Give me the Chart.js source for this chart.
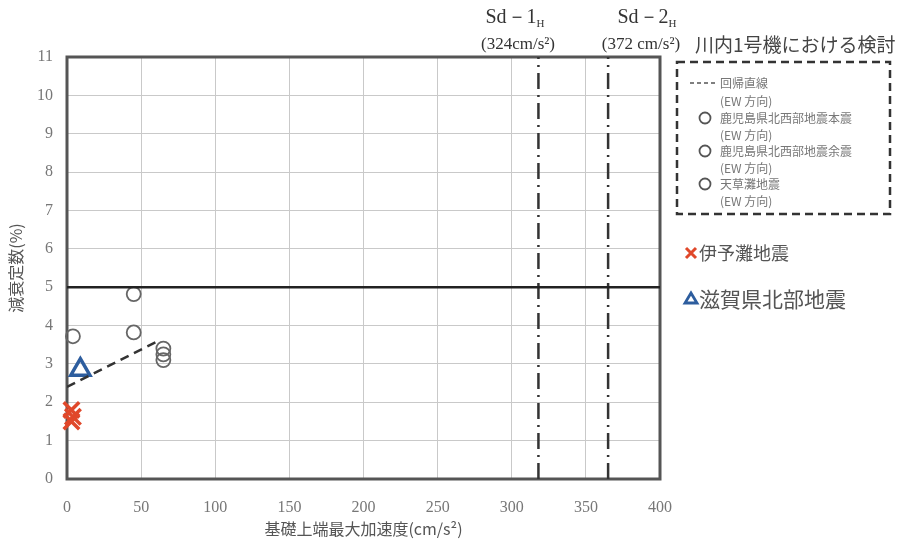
<!DOCTYPE html>
<html>
<head>
<meta charset="utf-8">
<script src="https://cdn.jsdelivr.net/npm/chart.js@4/dist/chart.umd.min.js"></script>
<style>
  body { margin: 0; background: #fff; }
  canvas { display: block; }
</style>
</head>
<body>
<canvas id="chart" width="906" height="547"></canvas>
<script>
// --- Axis ---
const X_MIN = 0, X_MAX = 400, X_STEP = 50;
const Y_MIN = 0, Y_MAX = 11, Y_STEP = 1;

// --- Data (x: cm/s2, y: %) ---
const mainshockPts = [{ x: 45, y: 4.82 }, { x: 65, y: 3.4 }];
const aftershockPts = [{ x: 45, y: 3.82 }, { x: 65, y: 3.25 }];
const amakusaPts = [{ x: 4, y: 3.72 }, { x: 65, y: 3.1 }];
const iyonadaPts = [{ x: 3, y: 1.8 }, { x: 4, y: 1.62 }, { x: 3, y: 1.5 }];
const shigaPts = [{ x: 9, y: 2.85 }];
const regressionPts = [{ x: 0, y: 2.4 }, { x: 60, y: 3.57 }];
const limitLine = 5;
const sdLines = [318, 365];            // where the two Sd lines are drawn
const sdLabels = ["324cm/s²", "372 cm/s²"];

// --- Legend texts ---
const boxTitle = "川内1号機における検討";
const boxItems = ["回帰直線", "鹿児島県北西部地震本震", "鹿児島県北西部地震余震", "天草灘地震"];
const EW = "(EW 方向)";

const JP = '"Noto Sans CJK JP", sans-serif';
const SERIF = '"Liberation Serif", serif';
const GRID = "#c9c9c9";
const RED = "#e0482a";
const BLUE = "#2d5d9e";

// --- Extra drawing: frame, headers, legend box ---
const decorPlugin = {
  id: "decor",
  beforeDatasetsDraw(chart) {
    const { ctx, chartArea: a } = chart;
    ctx.save();
    ctx.strokeStyle = "#555";
    ctx.lineWidth = 3;
    ctx.strokeRect(a.left, a.top, a.right - a.left, a.bottom - a.top);
    ctx.restore();
  },
  afterDraw(chart) {
    const { ctx } = chart;
    ctx.save();
    ctx.fillStyle = "#333";
    ctx.textBaseline = "middle";

    // Sd headers
    const sdCenters = [515, 647];
    sdCenters.forEach((cx, i) => {
      ctx.font = "20px " + SERIF;
      const main = "Sd－" + (i + 1);
      const w1 = ctx.measureText(main).width;
      ctx.font = "11px " + SERIF;
      const w2 = ctx.measureText("H").width;
      const start = cx - (w1 + w2) / 2;
      ctx.textAlign = "left";
      ctx.font = "20px " + SERIF;
      ctx.fillText(main, start, 18);
      ctx.font = "11px " + SERIF;
      ctx.fillText("H", start + w1, 24);
      ctx.font = "17px " + SERIF;
      ctx.textAlign = "center";
      ctx.fillText("(" + sdLabels[i] + ")", cx + (i ? -6 : 3), 45);
    });

    // box title
    ctx.textAlign = "left";
    ctx.font = "19px " + JP;
    ctx.fillStyle = "#444";
    ctx.fillText(boxTitle, 695, 45);

    // dashed legend box
    ctx.strokeStyle = "#333";
    ctx.lineWidth = 2.5;
    ctx.setLineDash([8, 5]);
    ctx.strokeRect(677, 62, 213, 152);
    ctx.setLineDash([]);

    ctx.font = "12px " + JP;
    ctx.fillStyle = "#777";
    // regression sample
    ctx.strokeStyle = "#555";
    ctx.lineWidth = 1.5;
    ctx.setLineDash([4, 3]);
    ctx.beginPath(); ctx.moveTo(690, 83); ctx.lineTo(717, 83); ctx.stroke();
    ctx.setLineDash([]);
    ctx.fillText(boxItems[0], 720, 83);
    ctx.fillText(EW, 720, 101);
    const rows = [118, 151, 184];
    rows.forEach((y, i) => {
      ctx.strokeStyle = "#555";
      ctx.lineWidth = 1.8;
      ctx.beginPath(); ctx.arc(705, y, 5.5, 0, Math.PI * 2); ctx.stroke();
      ctx.fillText(boxItems[i + 1], 720, y);
      ctx.fillText(EW, 720, y + 17);
    });

    // red cross legend
    ctx.strokeStyle = RED;
    ctx.lineWidth = 3;
    ctx.beginPath();
    ctx.moveTo(686, 248); ctx.lineTo(696, 258);
    ctx.moveTo(696, 248); ctx.lineTo(686, 258);
    ctx.stroke();
    ctx.fillStyle = "#555";
    ctx.font = "18px " + JP;
    ctx.fillText("伊予灘地震", 699, 253);

    // blue triangle legend
    ctx.strokeStyle = BLUE;
    ctx.lineWidth = 2.8;
    ctx.beginPath();
    ctx.moveTo(691, 293); ctx.lineTo(697, 303); ctx.lineTo(685, 303); ctx.closePath();
    ctx.stroke();
    ctx.font = "21px " + JP;
    ctx.fillText("滋賀県北部地震", 699, 299);
    ctx.restore();
  }
};

const circleStyle = {
  type: "scatter",
  pointStyle: "circle",
  pointRadius: 7,
  pointBorderWidth: 1.8,
  borderColor: "#666",
  backgroundColor: "rgba(0,0,0,0)",
  clip: false
};

new Chart(document.getElementById("chart"), {
  type: "scatter",
  data: {
    datasets: [
      {
        type: "line", data: [{ x: X_MIN, y: limitLine }, { x: X_MAX, y: limitLine }],
        borderColor: "#222", borderWidth: 2.5, pointRadius: 0
      },
      ...sdLines.map(x => ({
        type: "line", data: [{ x: x, y: Y_MIN }, { x: x, y: Y_MAX }],
        borderColor: "#333", borderWidth: 2.5, borderDash: [16, 6, 2, 6], pointRadius: 0
      })),
      {
        type: "line", data: regressionPts,
        borderColor: "#333", borderWidth: 2.5, borderDash: [9, 6], pointRadius: 0
      },
      Object.assign({ data: mainshockPts }, circleStyle),
      Object.assign({ data: aftershockPts }, circleStyle),
      Object.assign({ data: amakusaPts }, circleStyle),
      {
        data: shigaPts, pointStyle: "triangle", pointRadius: 11,
        pointBorderWidth: 3.5, borderColor: BLUE, backgroundColor: "rgba(0,0,0,0)", clip: false
      },
      {
        data: iyonadaPts, pointStyle: "crossRot", pointRadius: 11,
        pointBorderWidth: 3.5, borderColor: RED, backgroundColor: RED, clip: false
      }
    ]
  },
  options: {
    responsive: false,
    animation: false,
    layout: { padding: { left: 0, right: 246, top: 57, bottom: 0 } },
    plugins: { legend: { display: false }, tooltip: { enabled: false } },
    scales: {
      x: {
        type: "linear", min: X_MIN, max: X_MAX,
        ticks: { stepSize: X_STEP, color: "#777", padding: 19, font: { family: SERIF, size: 16 } },
        grid: { color: GRID, drawTicks: false },
        border: { display: false },
        title: {
          display: true, text: "基礎上端最大加速度(cm/s²)", color: "#555",
          font: { family: JP, size: 16 }, padding: { top: 0, bottom: 8 }
        },
        afterFit(s) { s.height = 68; }
      },
      y: {
        min: Y_MIN, max: Y_MAX,
        ticks: { stepSize: Y_STEP, color: "#777", padding: 14, font: { family: SERIF, size: 16 } },
        grid: { color: GRID, drawTicks: false },
        border: { display: false },
        title: {
          display: true, text: "減衰定数(%)", color: "#555",
          font: { family: JP, size: 16 }, padding: { top: 6, bottom: 0 }
        },
        afterFit(s) { s.width = 67; }
      }
    }
  },
  plugins: [decorPlugin]
});
</script>
</body>
</html>
